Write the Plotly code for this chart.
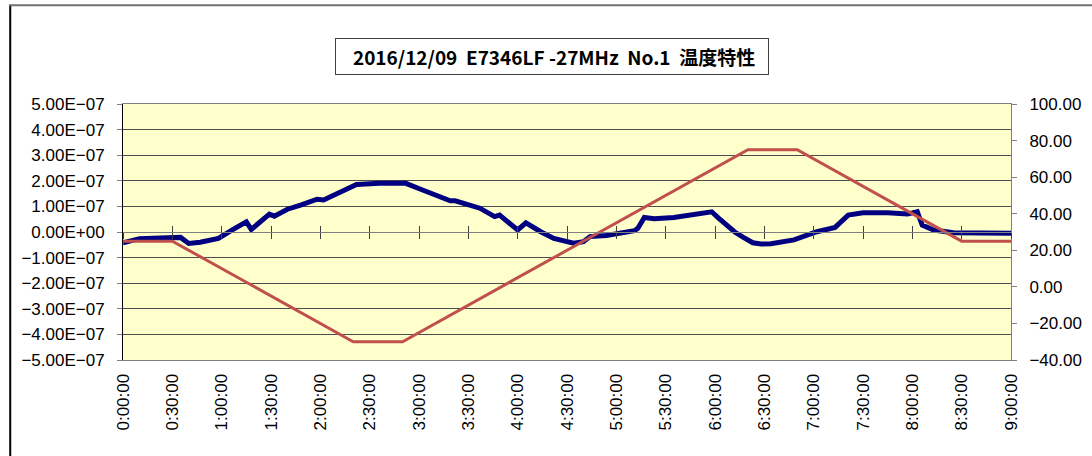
import plotly.graph_objects as go

# time in minutes from start
time_labels = ["0:00:00", "0:30:00", "1:00:00", "1:30:00", "2:00:00", "2:30:00",
               "3:00:00", "3:30:00", "4:00:00", "4:30:00", "5:00:00", "5:30:00",
               "6:00:00", "6:30:00", "7:00:00", "7:30:00", "8:00:00", "8:30:00", "9:00:00"]
time_ticks = [i * 30 for i in range(len(time_labels))]

# frequency deviation (left axis, units of 1e-7)
freq_time = [0, 10, 35, 40, 47, 58, 67, 75, 78, 89, 92, 100, 108, 118, 122, 130,
             142, 156, 172, 181, 189, 193, 199, 202, 217, 226, 229, 240, 245, 254,
             262, 274, 280, 284, 294, 311, 313, 317, 323, 335, 347, 358, 362, 367,
             372, 377, 383, 388, 394, 408, 422, 433, 441, 450, 465, 477, 483, 486,
             493, 505, 517, 540]
freq_vals = [-0.42, -0.26, -0.21, -0.45, -0.40, -0.25, 0.10, 0.40, 0.10, 0.70, 0.62,
             0.89, 1.05, 1.28, 1.25, 1.48, 1.86, 1.90, 1.90, 1.67, 1.45, 1.36, 1.22,
             1.22, 0.93, 0.60, 0.66, 0.08, 0.36, 0.01, -0.25, -0.44, -0.38, -0.18,
             -0.14, 0.05, 0.14, 0.57, 0.52, 0.57, 0.70, 0.79, 0.55, 0.25, 0.00, -0.20,
             -0.42, -0.47, -0.46, -0.31, 0.01, 0.18, 0.66, 0.75, 0.75, 0.70, 0.79,
             0.27, 0.08, -0.03, -0.05, -0.05]

# temperature (right axis)
temp_time = [0, 30, 140, 170, 380, 410, 510, 540]
temp_vals = [25, 25, -30, -30, 75, 75, 25, 25]

left_ticks = [i * 1e-7 for i in range(-5, 6)]
left_text = [("%.2fE%+03d" % (v * 1e7, -7) if v != 0 else "0.00E+00").replace("-", "−")
             for v in left_ticks]
right_ticks = list(range(-40, 101, 20))
right_text = [("%.2f" % v).replace("-", "−") for v in right_ticks]

font = "Liberation Sans, Arial, sans-serif"

fig = go.Figure()
fig.add_trace(go.Scatter(x=freq_time, y=[v * 1e-7 for v in freq_vals], mode="lines",
                         line=dict(color="#000080", width=5), xaxis="x", yaxis="y",
                         showlegend=False))
fig.add_trace(go.Scatter(x=temp_time, y=temp_vals, mode="lines",
                         line=dict(color="#C0504D", width=3), xaxis="x", yaxis="y2",
                         showlegend=False))

common_x = dict(range=[0, 540], tickvals=time_ticks, showgrid=False, zeroline=False,
                automargin=False)

fig.update_layout(
    width=1092, height=456,
    margin=dict(l=123, r=81, t=104, b=96),
    paper_bgcolor="white",
    plot_bgcolor="#FFFFCC",
    font=dict(family=font, size=17, color="black"),
    xaxis=dict(**common_x, ticktext=time_labels, tickangle=-90, ticks="",
               showline=True, linecolor="#808080", mirror=True,
               ticklabelstandoff=6, tickfont=dict(size=17)),
    xaxis2=dict(**common_x, overlaying="x", anchor="free", position=0.5,
                showticklabels=False, ticks="outside", ticklen=6, tickcolor="#404040",
                showline=True, linecolor="#808080", linewidth=1),
    xaxis3=dict(**common_x, overlaying="x", anchor="free", position=0.5,
                showticklabels=False, ticks="inside", ticklen=6, tickcolor="#404040",
                showline=False),
    yaxis=dict(range=[-5e-7, 5e-7], tickvals=left_ticks, ticktext=left_text,
               ticks="outside", ticklen=5, tickcolor="#808080", automargin=False,
               ticklabelstandoff=9,
               showgrid=True, gridcolor="#4d4d4d", gridwidth=1, zeroline=False,
               showline=True, linecolor="black", linewidth=1),
    yaxis2=dict(range=[-40, 100], tickvals=right_ticks, ticktext=right_text,
                overlaying="y", side="right", ticks="outside", ticklen=5,
                ticklabelstandoff=9, automargin=False,
                tickcolor="#808080", showgrid=False, zeroline=False,
                showline=True, linecolor="#808080"),
    annotations=[dict(
        text="<b>&nbsp;&nbsp;&nbsp;2016/12/09  E7346LF -27MHz  No.1  温度特性&nbsp;&nbsp;</b>",
        xref="paper", yref="paper", x=0.483, y=1.0, yshift=48,
        xanchor="center", yanchor="middle", showarrow=False,
        font=dict(family="Noto Sans CJK JP, " + font, size=19, color="black"),
        bordercolor="#404040", borderwidth=1, borderpad=4, bgcolor="white",
    )],
    shapes=[
        # outer chart frame: left edge and top edge
        dict(type="line", xref="paper", yref="paper", x0=-0.127, x1=-0.127,
             y0=-0.5, y1=1.388, line=dict(color="black", width=2)),
        dict(type="line", xref="paper", yref="paper", x0=-0.128, x1=1.2,
             y0=1.386, y1=1.386, line=dict(color="#707070", width=2)),
    ],
)

# invisible anchor traces so overlay axes render
fig.add_trace(go.Scatter(x=[0], y=[0], xaxis="x2", yaxis="y", mode="markers",
                         marker=dict(opacity=0), showlegend=False, hoverinfo="skip"))
fig.add_trace(go.Scatter(x=[0], y=[0], xaxis="x3", yaxis="y", mode="markers",
                         marker=dict(opacity=0), showlegend=False, hoverinfo="skip"))

# page body has a default 8px margin; remove it so the figure fills the window
fig.write_html("out.html", config={"displayModeBar": False},
               post_script="document.body.style.margin='0px';")
